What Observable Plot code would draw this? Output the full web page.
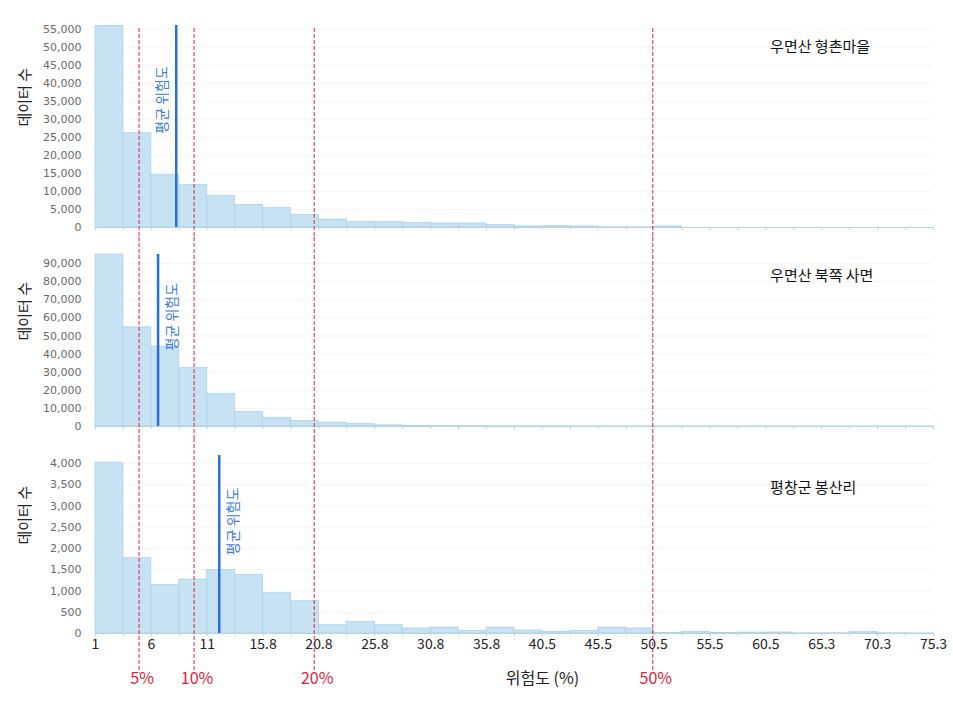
<!DOCTYPE html>
<html><head><meta charset="utf-8">
<script src="https://cdn.jsdelivr.net/npm/d3@7"></script>
<script src="https://cdn.jsdelivr.net/npm/@observablehq/plot@0.6"></script>
<style>
body{margin:0;background:#fff}
#chart{width:953px;height:701px;position:relative;overflow:hidden}
#chart svg{display:block}
</style>
</head><body><div id="chart"></div>
<script>
// x tick labels at every other bin edge (bin edges 0,2,4,...,30)
const tickLabels = ["1","6","11","15.8","20.8","25.8","30.8","35.8","40.5","45.5","50.5","55.5","60.5","65.3","70.3","75.3"];
const panelNames = ["우면산 형촌마을","우면산 북쪽 사면","평창군 봉산리"];
const yTitle = "데이터 수";
const meanLabel = "평균 위험도";
const xTitle = "위험도 (%)";

// counts per bin (30 bins)
const counts1 = [55900,26150,14500,11830,8780,6280,5360,3510,2220,1600,1570,1290,1110,1110,650,280,370,280,60,40,280,0,0,0,0,0,0,0,0,0];
const counts2 = [94970,54760,44070,32270,18070,7930,4790,2950,2100,1290,650,330,200,160,130,110,90,70,60,50,40,30,30,20,20,20,10,10,10,10];
const counts3 = [4020,1772,1145,1271,1498,1373,949,761,196,274,196,118,141,63,141,70,39,63,141,118,16,39,16,20,24,5,5,31,5,3];

// mean risk position (in bin-index units)
const meanPos = [2.89, 2.24, 4.43];
// y-axis maximum and tick step per panel
const yMax = [56000, 95000, 4190];
const yStep = [5000, 10000, 500];
// vertical placement of the mean label (count units) and side of the line
const meanLabelY = [26000, 42000, 1842];
const meanLabelSide = [-1, 1, 1];
// panel title positions
const titleX = [24.15, 24.15, 24.15];
const titleY = [49900, 82960, 3419];

// threshold lines
const thresholdLabels = ["5%","10%","20%","50%"];
const thresholdPos = [1.56, 3.53, 7.83, 19.95];
const xTitlePos = 16;

const countsAll = [counts1, counts2, counts3];

// layout
const W = 953;
const heights = [237, 201, 263];
const mTop = [25, 17, 17];
const mBottom = [10, 12, 68];
const ruleInsetTop = [3, -17, -17];
const ruleInsetBottom = [-10, -12, -40];

const FONT = "'Noto Sans CJK KR', 'Noto Sans', sans-serif";
const barFill = "#c6e2f3";
const barStroke = "#aed2e9";
const baseColor = "#b5d3e6";
const meanColor = "#2a6fd6";
const red = "#d9253a";

const root = document.getElementById("chart");

countsAll.forEach((counts, p) => {
  const data = counts.map((c, i) => ({bin: i, count: c}));
  const yTicks = d3.range(0, yMax[p] + 1, yStep[p]).filter(v => v <= yMax[p]);
  const isLast = p === 2;
  const marks = [
    Plot.gridY(yTicks, {stroke: "#000", strokeOpacity: 0.045}),
    Plot.rectY(data, {x1: "bin", x2: d => d.bin + 1, y: "count", fill: barFill, stroke: barStroke, strokeWidth: 0.8}),
    Plot.ruleY([0], {stroke: baseColor, strokeWidth: 1.2}),
    Plot.axisX({ticks: d3.range(0, 31), tickSize: 3, tickFormat: () => "", stroke: baseColor, label: null}),
    Plot.axisY({ticks: yTicks, tickSize: 0, tickPadding: 14, tickFormat: d3.format(","),
      fontSize: 11, fontFamily: "DejaVu Sans", fill: "#6a6a6a", label: null}),
    Plot.text([yTitle], {frameAnchor: "left", rotate: -90, dx: -70.5, fontSize: 15, fill: "#222", fontFamily: FONT}),
    Plot.ruleX(thresholdPos, {stroke: red, strokeWidth: 1, strokeDasharray: "4,2",
      insetTop: ruleInsetTop[p], insetBottom: ruleInsetBottom[p]}),
    Plot.ruleX([meanPos[p]], {stroke: meanColor, strokeWidth: 2.5}),
    Plot.text([meanLabel], {x: meanPos[p], y: meanLabelY[p], rotate: -90, textAnchor: "start",
      dx: meanLabelSide[p] * 14, fontSize: 14, fill: "#3c7bd8", fontFamily: FONT}),
    Plot.text([panelNames[p]], {x: titleX[p], y: titleY[p], textAnchor: "start", fontSize: 15, fill: "#111", fontFamily: FONT})
  ];
  if (isLast) {
    marks.push(
      Plot.axisX({ticks: d3.range(0, 31, 2), tickSize: 0, tickPadding: 6,
        tickFormat: i => tickLabels[i / 2], fontSize: 14, fill: "#222", fontFamily: FONT, label: null}),
      Plot.text(thresholdLabels, {x: (d, i) => thresholdPos[i], frameAnchor: "bottom", dy: 50, dx: 3,
        fontSize: 16, fill: red, fontFamily: FONT}),
      Plot.text([xTitle], {x: xTitlePos, frameAnchor: "bottom", dy: 50, fontSize: 16, fill: "#222", fontFamily: FONT})
    );
  }
  const chart = Plot.plot({
    width: W,
    height: heights[p],
    marginLeft: 95,
    marginRight: 20,
    marginTop: mTop[p],
    marginBottom: mBottom[p],
    style: {fontFamily: FONT, background: "transparent", overflow: "visible"},
    x: {domain: [0, 30], axis: null},
    y: {domain: [0, yMax[p]], axis: null},
    marks
  });
  root.appendChild(chart);
});
</script>
</body></html>
